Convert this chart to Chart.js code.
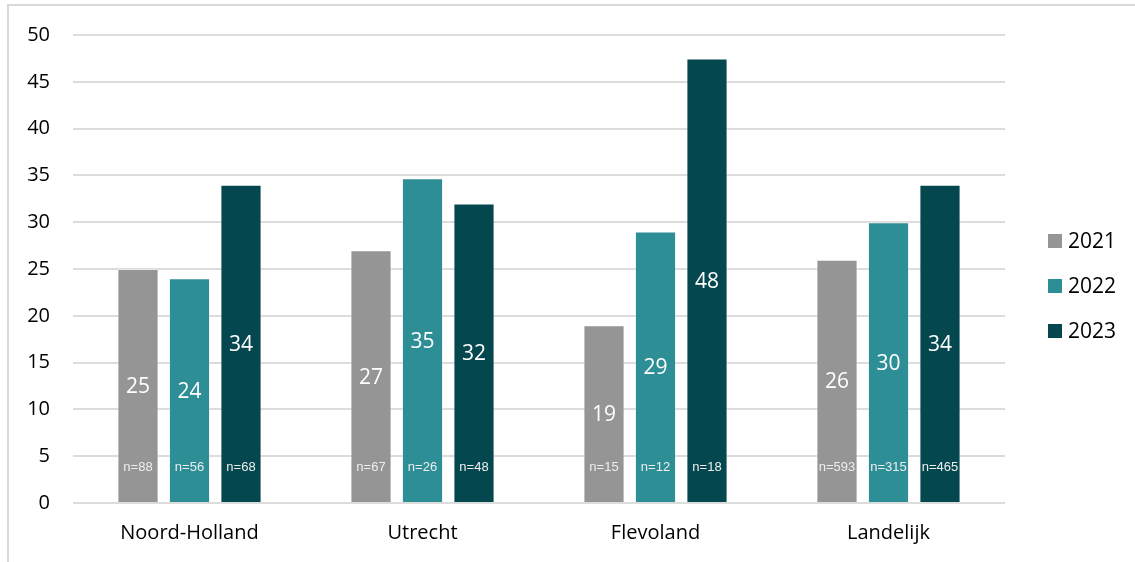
<!DOCTYPE html>
<html>
<head>
<meta charset="utf-8">
<script src="https://cdn.jsdelivr.net/npm/chart.js@4"></script>
<style>
  html, body { margin: 0; padding: 0; background: #fff; overflow: hidden; }
  #wrap { position: relative; width: 1135px; height: 562px; }
  #frame { position: absolute; left: 7px; top: 4px; width: 1140px; height: 570px; border: 2px solid #d9d9d9; box-sizing: border-box; pointer-events: none; }
  canvas { position: absolute; left: 0; top: 0; }
</style>
</head>
<body>
<div id="wrap">
  <canvas id="c" width="1135" height="562"></canvas>
  <div id="frame"></div>
</div>
<script>
const categories = ['Noord-Holland', 'Utrecht', 'Flevoland', 'Landelijk'];
const seriesNames = ['2021', '2022', '2023'];
const values2021 = [25, 27, 19, 26];
const values2022 = [24, 34.7, 29, 30];
const values2023 = [34, 32, 47.5, 34];
const n2021 = [88, 67, 15, 593];
const n2022 = [56, 26, 12, 315];
const n2023 = [68, 48, 18, 465];
const colors = ['#959595', '#2E8E96', '#05474F'];
const yMin = 0, yMax = 50, yStep = 5;

const allValues = [values2021, values2022, values2023];
const allN = [n2021, n2022, n2023];

const labelPlugin = {
  id: 'barLabels',
  afterDatasetsDraw(chart) {
    const ctx = chart.ctx;
    const yScale = chart.scales.y;
    ctx.save();
    ctx.textAlign = 'center';
    ctx.textBaseline = 'middle';
    chart.data.datasets.forEach((ds, di) => {
      const meta = chart.getDatasetMeta(di);
      meta.data.forEach((bar, i) => {
        const v = ds.data[i];
        const top = yScale.getPixelForValue(v);
        const base = yScale.getPixelForValue(0);
        ctx.fillStyle = '#ffffff';
        ctx.font = '21px "Open Sans"';
        ctx.fillText(String(Math.round(v)), bar.x, (top + base) / 2 + 1);
        ctx.fillStyle = '#eeeeee';
        ctx.font = '13px "Liberation Sans"';
        ctx.fillText('n=' + allN[di][i], bar.x, base - 36);
      });
    });
    ctx.restore();
  }
};

const legendPlugin = {
  id: 'sideLegend',
  afterDraw(chart) {
    const ctx = chart.ctx;
    ctx.save();
    ctx.textAlign = 'left';
    ctx.textBaseline = 'middle';
    ctx.font = '21px "Open Sans"';
    const x0 = chart.chartArea.right + 43;
    const yc = (chart.chartArea.top + chart.chartArea.bottom) / 2;
    seriesNames.forEach((name, i) => {
      const y = yc - 45 + i * 45 + 17;
      ctx.fillStyle = colors[i];
      ctx.fillRect(x0, y - 7, 14, 14);
      ctx.fillStyle = '#000000';
      ctx.fillText(name, x0 + 20, y + 1);
    });
    ctx.restore();
  }
};

new Chart(document.getElementById('c'), {
  type: 'bar',
  data: {
    labels: categories,
    datasets: seriesNames.map((name, i) => ({
      label: name,
      data: allValues[i],
      backgroundColor: colors[i],
      borderColor: 'rgba(255,255,255,0.35)',
      borderWidth: 1,
      categoryPercentage: 0.663,
      barPercentage: 0.8
    }))
  },
  options: {
    responsive: false,
    animation: false,
    devicePixelRatio: 1,
    layout: { padding: { top: 34, right: 130, bottom: 0, left: 0 } },
    plugins: { legend: { display: false }, tooltip: { enabled: false } },
    scales: {
      x: {
        grid: { display: false, drawTicks: false },
        border: { display: false },
        ticks: { color: '#000', font: { family: 'Open Sans', size: 20 }, padding: 18 },
        afterFit(scale) { scale.height = 59; }
      },
      y: {
        min: yMin, max: yMax,
        grid: { color: '#dcdcdc', lineWidth: 2, drawTicks: false },
        border: { display: false },
        ticks: { stepSize: yStep, color: '#000', font: { family: 'Open Sans', size: 20 }, padding: 23 },
        afterFit(scale) { scale.width = 73; }
      }
    }
  },
  plugins: [labelPlugin, legendPlugin]
});
</script>
</body>
</html>
